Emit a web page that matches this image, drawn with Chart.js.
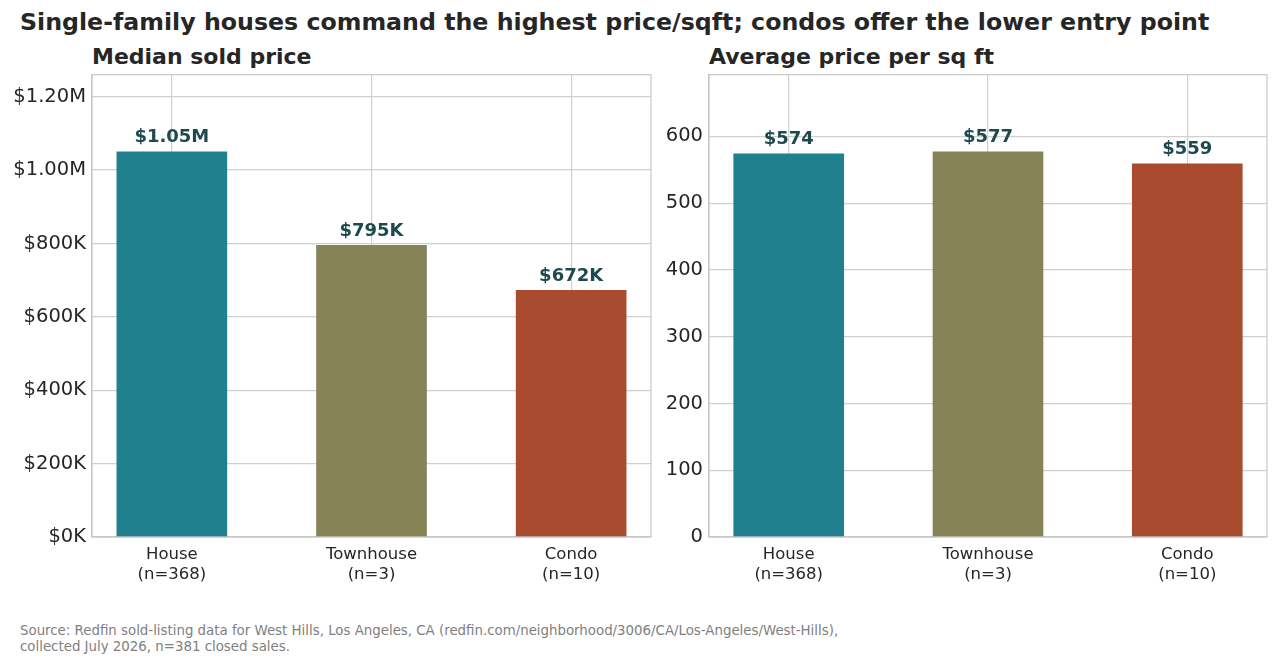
<!DOCTYPE html>
<html>
<head>
    <title>West Hills sold prices</title>
    <script src="https://cdn.jsdelivr.net/npm/chart.js"></script>
    <style>
        body { margin: 0; background: #fff; font-family: "DejaVu Sans", sans-serif; }
        .page { position: relative; width: 1280px; height: 669px; overflow: hidden; }
        .title { position: absolute; left: 20px; top: 8px; font-size: 23.7px; font-weight: bold; color: #262626; line-height: 28px; white-space: nowrap; }
        .subtitle { position: absolute; top: 43px; font-size: 22px; font-weight: bold; color: #262626; line-height: 28px; white-space: nowrap; }
        .panel { position: absolute; top: 57px; }
        .source { position: absolute; left: 20px; top: 623px; font-size: 13.35px; line-height: 16px; color: #808080; }
    </style>
</head>
<body>
<div class="page">
    <div class="title">Single-family houses command the highest price/sqft; condos offer the lower entry point</div>
    <div class="subtitle" style="left:92px">Median sold price</div>
    <div class="subtitle" style="left:709px">Average price per sq ft</div>
    <div class="panel" style="left:0"><canvas id="precio" width="660" height="543"></canvas></div>
    <div class="panel" style="left:640px"><canvas id="pies" width="640" height="543"></canvas></div>
    <div class="source">Source: Redfin sold-listing data for West Hills, Los Angeles, CA (redfin.com/neighborhood/3006/CA/Los-Angeles/West-Hills),<br>collected July 2026, n=381 closed sales.</div>
</div>

<script>
    const categories = ['House', 'Townhouse', 'Condo'];
    const counts = [368, 3, 10];
    const medianPrice = [1050000, 795000, 672000];
    const pricePerSqft = [574, 577, 559];
    const priceTicks = [0, 200000, 400000, 600000, 800000, 1000000, 1200000];
    const sqftTicks = [0, 100, 200, 300, 400, 500, 600];
    const barColors = ['#20808d', '#868356', '#a84b2f'];

    const FONT = '"DejaVu Sans", sans-serif';
    const GRID = '#d0d0d0';

    function fmtPrice(v) {
        if (v >= 1000000) return '$' + (v / 1000000).toFixed(2) + 'M';
        return '$' + Math.round(v / 1000) + 'K';
    }

    // box around the plot area, like the matplotlib spines
    const frame = {
        id: 'frame',
        afterDraw(chart) {
            const { ctx, chartArea: a } = chart;
            ctx.save();
            ctx.strokeStyle = '#c8c8c8';
            ctx.lineWidth = 1.2;
            ctx.strokeRect(a.left, a.top, a.right - a.left, a.bottom - a.top);
            ctx.restore();
        }
    };

    function valueLabels(format) {
        return {
            id: 'valueLabels',
            afterDatasetsDraw(chart) {
                const { ctx } = chart;
                const meta = chart.getDatasetMeta(0);
                ctx.save();
                ctx.font = 'bold 18px ' + FONT;
                ctx.fillStyle = '#1d4a4f';
                ctx.textAlign = 'center';
                ctx.textBaseline = 'bottom';
                meta.data.forEach((bar, i) => {
                    const v = chart.data.datasets[0].data[i].y;
                    ctx.fillText(format(v), bar.x, bar.y - 5);
                });
                ctx.restore();
            }
        };
    }

    function hacerGrafico(id, values, yTicks, yFmt, labelFmt, axisWidth, padRight) {
        const canvas = document.getElementById(id);
        return new Chart(canvas, {
            type: 'bar',
            data: {
                datasets: [{
                    data: values.map((v, i) => ({ x: i, y: v })),
                    backgroundColor: barColors,
                    barThickness: 110,
                    borderWidth: 0
                }]
            },
            options: {
                responsive: false,
                animation: false,
                layout: { padding: { top: 4, right: padRight, left: 0, bottom: 0 } },
                plugins: {
                    legend: { display: false },
                    tooltip: { enabled: false }
                },
                scales: {
                    x: {
                        type: 'linear',
                        offset: false,
                        min: -0.4,
                        max: 2.4,
                        afterBuildTicks: s => { s.ticks = categories.map((c, i) => ({ value: i })); },
                        afterFit: s => { s.height = 63; },
                        grid: { color: GRID, lineWidth: 1.2, drawTicks: false, offset: false },
                        border: { color: '#c8c8c8', width: 1.2 },
                        ticks: {
                            padding: 8,
                            color: '#262626',
                            font: { family: FONT, size: 16.5 },
                            callback: v => [categories[v], '(n=' + counts[v] + ')']
                        }
                    },
                    y: {
                        min: 0,
                        max: Math.max(...values) * 1.2,
                        afterBuildTicks: s => { s.ticks = yTicks.map(t => ({ value: t })); },
                        afterFit: s => { s.width = axisWidth; },
                        grid: { color: GRID, lineWidth: 1.2, drawTicks: false },
                        border: { color: '#c8c8c8', width: 1.2 },
                        ticks: {
                            padding: 6,
                            color: '#262626',
                            font: { family: FONT, size: 19.5 },
                            callback: yFmt
                        }
                    }
                }
            },
            plugins: [frame, valueLabels(labelFmt)]
        });
    }

    hacerGrafico('precio', medianPrice, priceTicks,
        v => v === 0 ? '$0K' : fmtPrice(v), fmtPrice, 92, 9);

    hacerGrafico('pies', pricePerSqft, sqftTicks,
        v => v, v => '$' + v, 69, 13);
</script>
</body>
</html>
